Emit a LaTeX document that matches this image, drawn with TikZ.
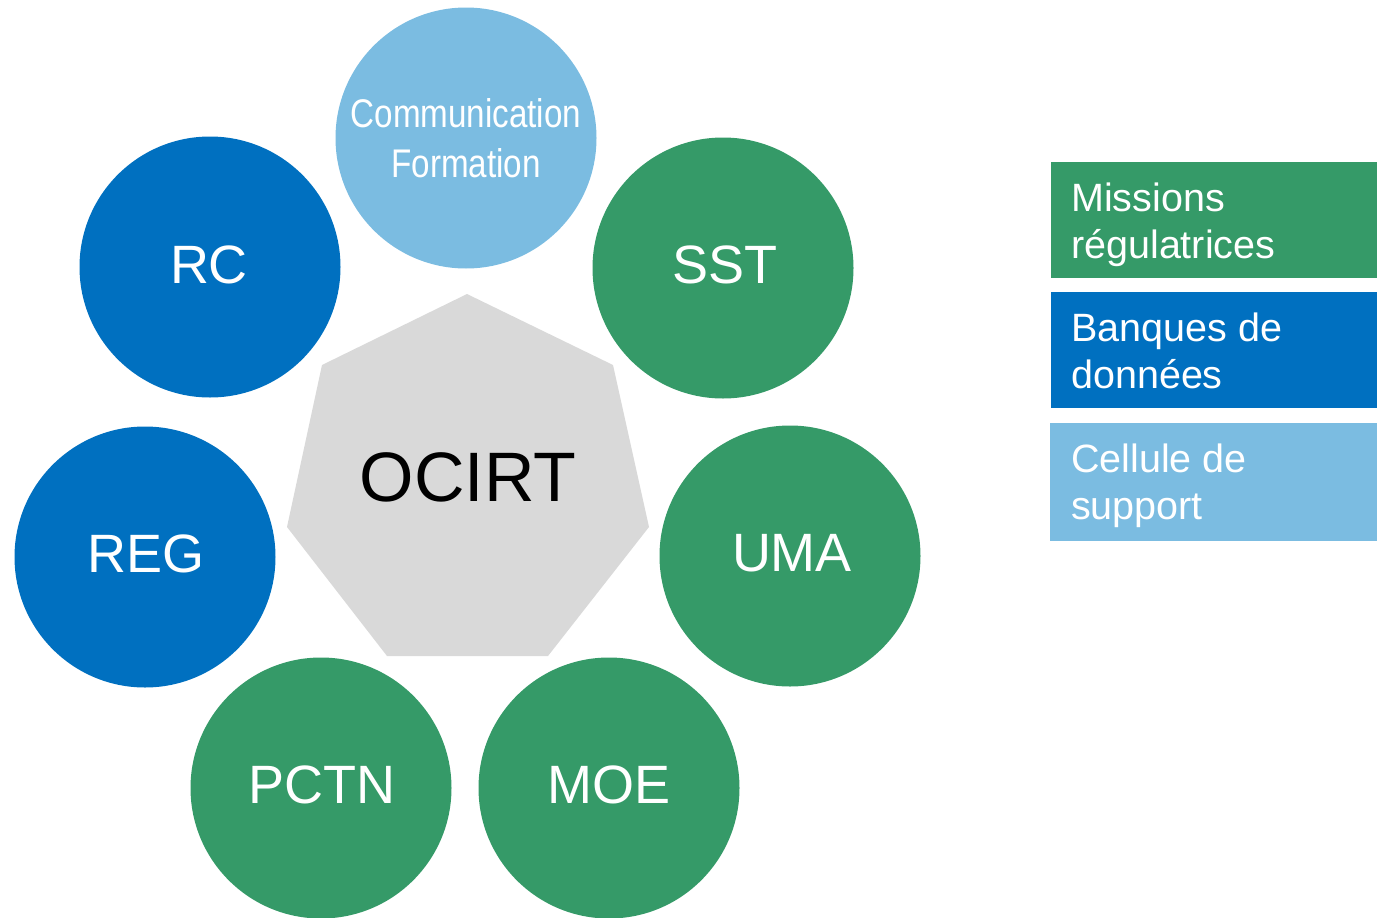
\documentclass[tikz,border=0pt]{standalone}
\usepackage{fontspec}
\setmainfont{Liberation Sans}
\definecolor{cgreen}{RGB}{53,154,104}
\definecolor{cblue}{RGB}{0,112,192}
\definecolor{clight}{RGB}{123,188,225}
\definecolor{cgray}{RGB}{217,217,217}
\begin{document}
\begin{tikzpicture}[x=1pt,y=-1pt,
  circ/.style={circle,draw=none,minimum size=261pt,inner sep=0pt},
  lab/.style={anchor=base,text=white,inner sep=0pt,font=\fontsize{54}{60}\selectfont},
  legbox/.style={draw=none,anchor=north west,minimum width=326pt,minimum height=116pt,inner sep=0pt},
  legtxt/.style={anchor=base west,text=white,inner sep=0pt,font=\fontsize{39.5}{47}\selectfont}]
\useasboundingbox (0,0) rectangle (1377,918);
% central heptagon
\fill[cgray] (467,294) -- (613,365) -- (649,527) -- (548,656) -- (387,656) -- (287,527) -- (322,365) -- cycle;
\node[anchor=base,inner sep=0pt,font=\fontsize{70}{80}\selectfont] (ocirt) at (468,501) {OCIRT};
% circles
\node[circ,fill=clight] (comm) at (466,138) {};
\node[circ,fill=cblue] (rc) at (210,267) {};
\node[circ,fill=cgreen] (sst) at (723,268) {};
\node[circ,fill=cblue] (reg) at (145,557) {};
\node[circ,fill=cgreen] (uma) at (790,556) {};
\node[circ,fill=cgreen] (pctn) at (321,788) {};
\node[circ,fill=cgreen] (moe) at (609,788) {};
% labels
\node[anchor=base,text=white,inner sep=0pt,font=\fontsize{40}{44}\selectfont] (commt1) at (466,127) {\scalebox{0.83}[1]{Communication}};
\node[anchor=base,text=white,inner sep=0pt,font=\fontsize{40}{44}\selectfont] (commt2) at (466,177) {\scalebox{0.83}[1]{Formation}};
\node[lab] (rct) at (209,283) {RC};
\node[lab] (sstt) at (725,283) {SST};
\node[lab] (regt) at (146,572) {REG};
\node[lab] (umat) at (792,571) {UMA};
\node[lab] (pctnt) at (322,803) {PCTN};
\node[lab] (moet) at (609,803) {MOE};
% legend
\node[legbox,fill=cgreen] (l1) at (1051,162) {};
\node[legbox,fill=cblue] (l2) at (1051,292) {};
\node[legbox,fill=clight,minimum width=327pt,minimum height=118pt] (l3) at (1050,423) {};
\node[legtxt] (l1a) at (1071,211) {Missions};
\node[legtxt] (l1b) at (1071,258) {régulatrices};
\node[legtxt] (l2a) at (1071,341) {Banques de};
\node[legtxt] (l2b) at (1071,388) {données};
\node[legtxt] (l3a) at (1071,472) {Cellule de};
\node[legtxt] (l3b) at (1071,519) {support};
\end{tikzpicture}
\end{document}
